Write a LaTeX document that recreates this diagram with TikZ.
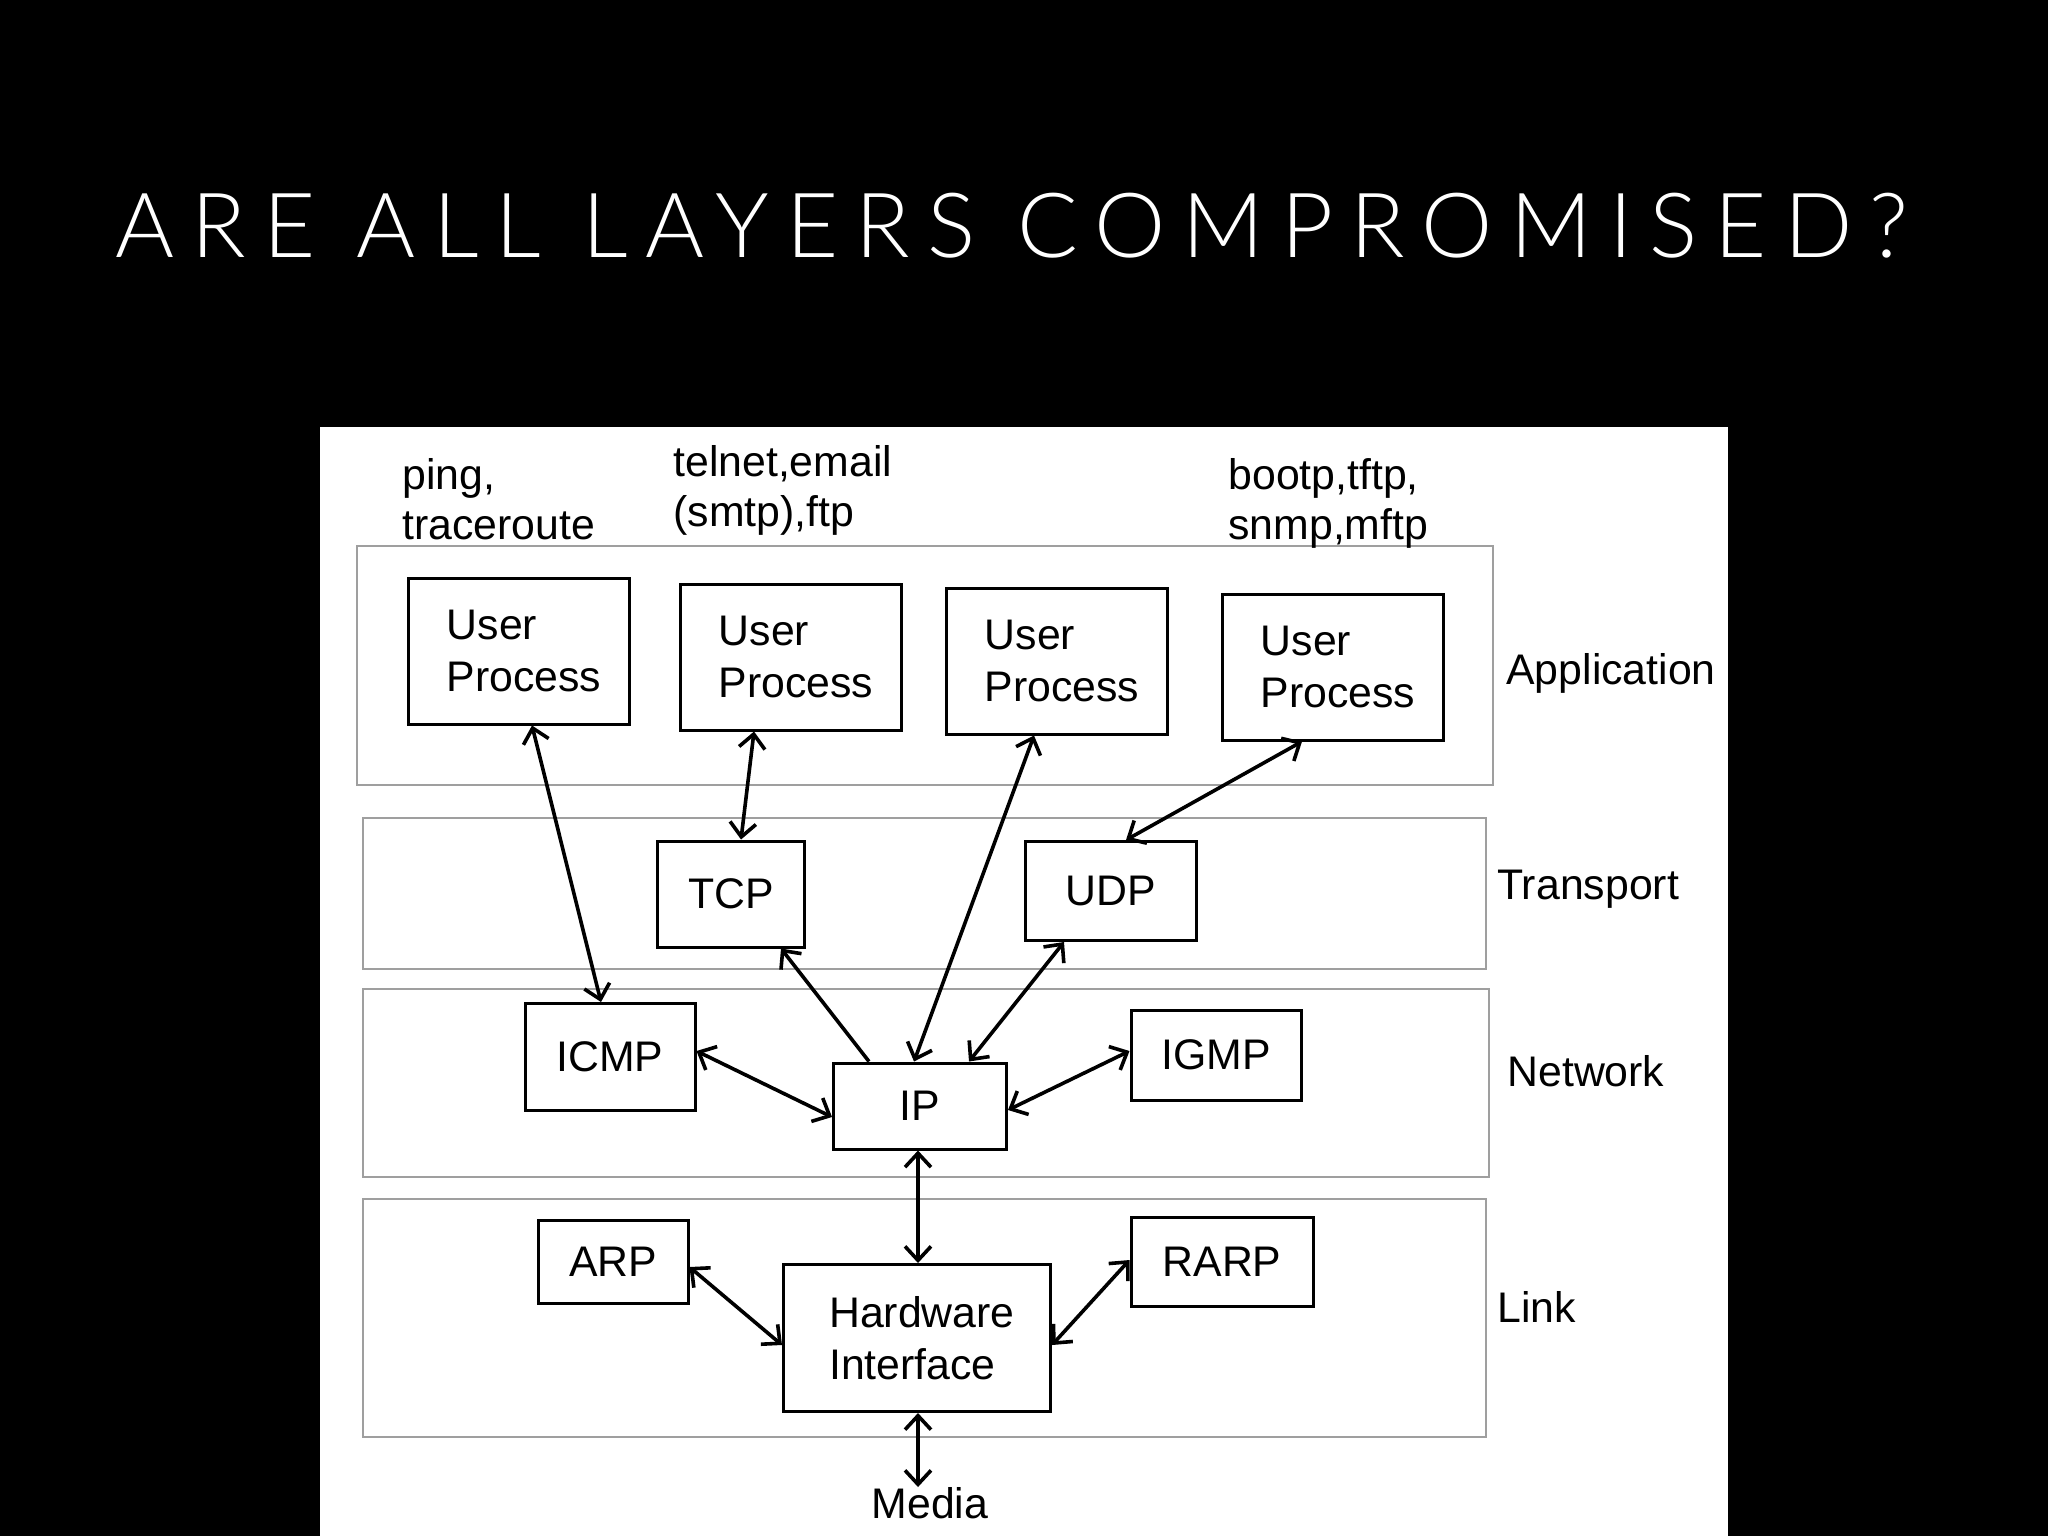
\documentclass[tikz,border=0pt]{standalone}
\usepackage{fontspec}
\setmainfont{Liberation Sans}
\newfontfamily\titlefont[LetterSpace=19]{Lato Light}
\usetikzlibrary{arrows.meta,calc}
\tikzset{
  band/.style={draw=gray!75, line width=1.2pt},
  box/.style={draw=black, line width=1.5pt, fill=white, inner sep=0pt, align=left,
    font=\fontsize{21.4}{26}\selectfont},
  lbl/.style={inner sep=0pt, align=left, anchor=west, font=\fontsize{21.4}{25}\selectfont},
  tip/.tip={Straight Barb[length=7pt,width=13pt]},
  link/.style={line width=1.8pt, tip-tip},
  onelink/.style={line width=1.8pt, -tip},
}
\begin{document}
\begin{tikzpicture}[x=0.5pt,y=-0.5pt]
\useasboundingbox (0,0) rectangle (2048,1536);
\fill[black] (0,0) rectangle (2048,1536);
\node[anchor=base west, inner sep=0pt, text=white, font=\titlefont\fontsize{45}{50}\selectfont] (title) at (115,257) {ARE ALL LAYERS COMPROMISED?};
\fill[white] (320,427) rectangle (1728,1536);
% layer bands
\draw[band] (357,546) rectangle (1493,785);
\draw[band] (363,818) rectangle (1486,969);
\draw[band] (363,989) rectangle (1489,1177);
\draw[band] (363,1199) rectangle (1486,1437);
% layer labels
\node[lbl] (lapp) at (1506,673) {Application};
\node[lbl] (ltra) at (1497,889) {Transport};
\node[lbl] (lnet) at (1507,1071) {Network};
\node[lbl] (llnk) at (1497,1307) {Link};
% protocol labels
\node[lbl] (ping) at (402,499) {ping,\\traceroute};
\node[lbl] (tel) at (673,490) {telnet,email\\(smtp),ftp};
\node[lbl] (boot) at (1228,503) {bootp,tftp,\\snmp,mftp};
% boxes
\node[box, minimum width=110.5pt, minimum height=73pt] (up1) at (519,651) {\hspace*{5pt}User\\\hspace*{5pt}Process};
\node[box, minimum width=110.5pt, minimum height=73pt] (up2) at (791,657) {\hspace*{5pt}User\\\hspace*{5pt}Process};
\node[box, minimum width=110.5pt, minimum height=73pt] (up3) at (1057,661) {\hspace*{5pt}User\\\hspace*{5pt}Process};
\node[box, minimum width=110.5pt, minimum height=73pt] (up4) at (1333,667) {\hspace*{5pt}User\\\hspace*{5pt}Process};
\node[box, minimum width=73.5pt, minimum height=53pt] (tcp) at (731,894) {TCP};
\node[box, minimum width=85.5pt, minimum height=49.5pt] (udp) at (1111,891) {UDP};
\node[box, minimum width=85pt, minimum height=53.5pt] (icmp) at (610,1057) {ICMP};
\node[box, minimum width=86.5pt, minimum height=43pt] (ip) at (920,1106) {IP};
\node[box, minimum width=85pt, minimum height=45pt] (igmp) at (1216,1055) {IGMP};
\node[box, minimum width=75pt, minimum height=41.5pt] (arp) at (613,1262) {ARP};
\node[box, minimum width=91pt, minimum height=44.5pt] (rarp) at (1222,1262) {RARP};
\node[box, minimum width=133.5pt, minimum height=73.5pt] (hw) at (917,1338) {\hspace*{5pt}Hardware\\\hspace*{5pt}Interface};
\node[lbl, anchor=north] (media) at (930,1487) {Media};
% connectors
\draw[link] ($(up1.south)+(13,0)$) -- ($(icmp.north)+(-9,0)$);
\draw[link] ($(up2.south)+(-37,0)$) -- ($(tcp.north)+(10,0)$);
\draw[link] ($(up3.south)+(-23,0)$) -- ($(ip.north)+(-6,0)$);
\draw[link] ($(up4.south)+(-31,0)$) -- ($(udp.north)+(15,0)$);
\draw[onelink] ($(ip.north)+(-51,0)$) -- ($(tcp.south)+(50,0)$);
\draw[link] ($(ip.north)+(49,0)$) -- ($(udp.south)+(-47,0)$);
\draw[link] ($(icmp.east)+(0,-6)$) -- ($(ip.west)+(0,11)$);
\draw[link] ($(ip.east)+(0,4)$) -- ($(igmp.west)+(0,-4)$);
\draw[link] ($(ip.south)+(-2,0)$) -- ($(hw.north)+(1,0)$);
\draw[link] ($(arp.east)+(0,5)$) -- ($(hw.west)+(0,7)$);
\draw[link] ($(hw.east)+(0,7)$) -- ($(rarp.west)+(0,-2)$);
\draw[link] ($(hw.south)+(1,0)$) -- ($(media.north)+(-12,0)$);
\end{tikzpicture}
\end{document}
